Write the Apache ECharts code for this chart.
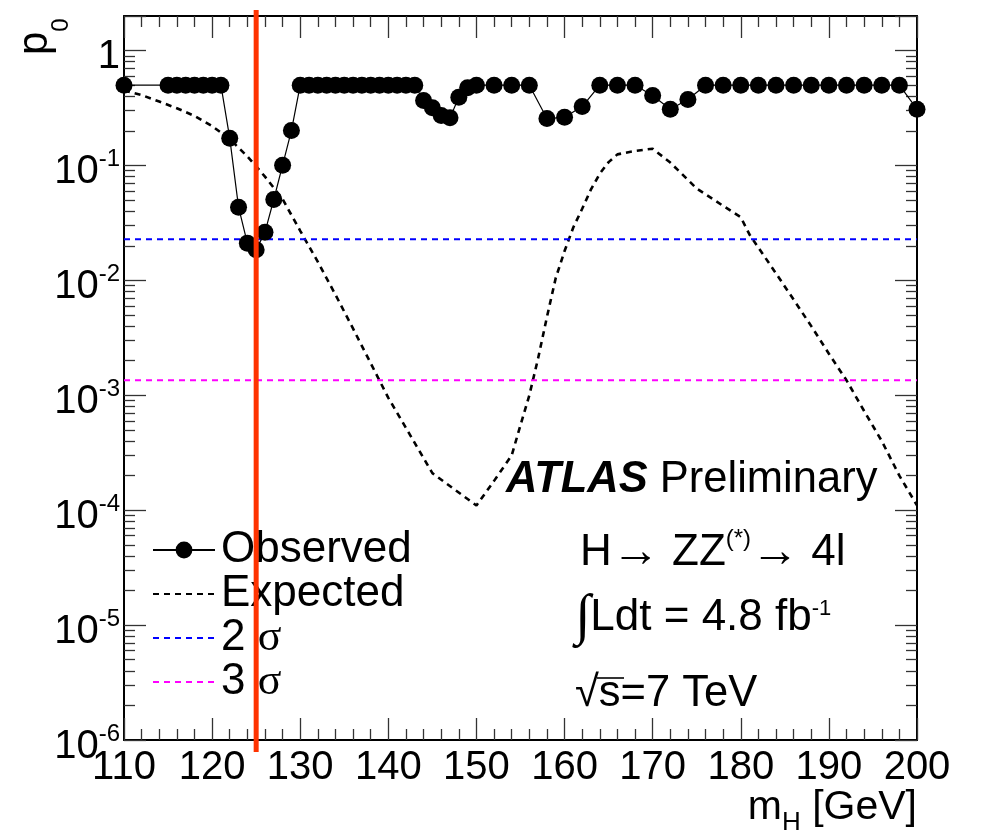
<!DOCTYPE html>
<html><head><meta charset="utf-8">
<script src="https://cdn.jsdelivr.net/npm/echarts@6/dist/echarts.min.js"></script>
<style>html,body{margin:0;padding:0;background:#fff}#c{width:981px;height:835px}</style>
</head><body><div id="c"></div>
<script>
// ---- data ----
const obsMass = [110,115,116,117,118,119,120,121,122,123,124,125,126,127,128,129,
  130,131,132,133,134,135,136,137,138,139,140,141,142,143,144,145,146,147,148,149,
  150,152,154,156,158,160,162,164,166,168,170,172,174,176,178,180,182,184,186,188,
  190,192,194,196,198,200];
const obsP = [0.5,0.5,0.5,0.5,0.5,0.5,0.5,0.5,0.173,0.0434,0.0211,0.0185,0.0263,0.0506,0.1007,0.2015,
  0.5,0.5,0.5,0.5,0.5,0.5,0.5,0.5,0.5,0.5,0.5,0.5,0.5,0.5,0.367,0.318,0.272,0.26,0.393,0.474,
  0.5,0.5,0.5,0.5,0.256,0.263,0.326,0.5,0.5,0.5,0.406,0.309,0.375,0.5,0.5,0.5,0.5,0.5,0.5,0.5,
  0.5,0.5,0.5,0.5,0.5,0.309];
const expMass = [110,112,114,116,118,120,122,124,126,128,130,132,134,136,138,140,142,145,150,
  152,154,155,156,157,158,159,160,161,162,163,164,165,166,168,170,172,175,178,180,181,184,186,
  188,190,192,194,196,198,200];
const expP = [0.449,0.41,0.36,0.315,0.27,0.22,0.17,0.12,0.08,0.051,0.027,0.0145,0.0075,0.0038,0.0019,0.00095,0.00052,0.00021,0.00011,
  0.00018,0.0003,0.00055,0.001,0.0021,0.0048,0.0105,0.018,0.029,0.042,0.062,0.085,0.107,0.125,0.134,0.14,0.106,0.063,0.0445,0.0355,0.025,0.0115,0.0068,
  0.004,0.0023,0.00135,0.00073,0.0004,0.0002,0.00011];
const sigmaNames = ['2 σ', '3 σ'];
const sigmaP = [0.02275, 0.00135];
const higgsMass = [125];
const massRange = [110, 200];
const pRange = [1e-6, 2];
const yTickExponents = [0, -1, -2, -3, -4, -5, -6];
const legendNames = ['Observed', 'Expected', '2 σ', '3 σ'];

// ---- chart ----
const FONT = "'Liberation Sans', Arial, Helvetica, sans-serif";
const SERIF = "'Liberation Serif', 'DejaVu Serif', serif";
const chart = echarts.init(document.getElementById('c'), null, {renderer: 'canvas'});

function xAxisDef(pos, showLabel) {
  return {
    type: 'value', position: pos, min: massRange[0], max: massRange[1], interval: 10,
    axisLine: {show: true, onZero: false, lineStyle: {color: '#000', width: 2}},
    axisTick: {show: true, inside: true, length: 22, lineStyle: {color: '#333', width: 1.3}},
    minorTick: {show: true, splitNumber: 5, length: 11, lineStyle: {color: '#333', width: 1.3}},
    splitLine: {show: false},
    axisLabel: {show: showLabel, fontSize: 40, fontFamily: FONT, color: '#000', margin: 8}
  };
}
function yAxisDef(pos, showLabel) {
  return {
    type: 'log', logBase: 10, position: pos, min: pRange[0], max: pRange[1], splitNumber: 7,
    axisLine: {show: true, onZero: false, lineStyle: {color: '#000', width: 2}},
    axisTick: {show: true, inside: true, length: 22, lineStyle: {color: '#333', width: 1.3}},
    minorTick: {show: true, splitNumber: 9, length: 11, lineStyle: {color: '#333', width: 1.3}},
    splitLine: {show: false},
    axisLabel: {
      show: showLabel, margin: 4, color: '#000', fontFamily: FONT,
      formatter: function (v) {
        const e = Math.log10(v), r = Math.round(e);
        if (Math.abs(e - r) > 1e-6 || yTickExponents.indexOf(r) < 0) return '';
        return r === 0 ? '{b|1}' : '{b|10}{s|' + r + '}';
      },
      rich: {
        b: {fontSize: 40, fontFamily: FONT, color: '#000', padding: [13, 0, 0, 0]},
        s: {fontSize: 24, fontFamily: FONT, color: '#000', padding: [0, 0, 12, 0]}
      }
    }
  };
}

const hidden = {opacity: 0};
const option = {
  animation: false,
  backgroundColor: '#fff',
  grid: {left: 124, right: 64, top: 16, bottom: 95},
  xAxis: [xAxisDef('bottom', true), xAxisDef('top', false)],
  yAxis: [yAxisDef('left', true), yAxisDef('right', false)],
  legend: {
    data: legendNames.map((n, i) => i === 0 ? {name: n} : {name: n, itemStyle: hidden}),
    orient: 'vertical', left: 147, top: 523,
    itemWidth: 62, itemHeight: 21, itemGap: 0, selectedMode: false,
    formatter: n => n.replace('σ', '{s|σ}'),
    textStyle: {fontSize: 44, fontFamily: FONT, color: '#000', lineHeight: 43, padding: [0, 0, 0, 1],
      rich: {s: {fontSize: 44, fontFamily: SERIF, color: '#000', lineHeight: 43}}}
  },
  series: [
    {
      name: 'Expected', type: 'line', z: 2,
      data: expMass.map((m, i) => [m, expP[i]]),
      showSymbol: false, symbol: 'none',
      lineStyle: {color: '#000', width: 2.6, type: [6, 5]}, itemStyle: {color: '#000'}
    },
    {
      name: sigmaNames[0], type: 'line', z: 2,
      data: massRange.map(m => [m, sigmaP[0]]), symbol: 'none',
      lineStyle: {color: '#0000ff', width: 2, type: [6, 5]}, itemStyle: {color: '#0000ff'}
    },
    {
      name: sigmaNames[1], type: 'line', z: 2,
      data: massRange.map(m => [m, sigmaP[1]]), symbol: 'none',
      lineStyle: {color: '#ff00ff', width: 2, type: [6, 5]}, itemStyle: {color: '#ff00ff'}
    },
    {
      name: 'Observed', type: 'line', z: 4, clip: false,
      data: obsMass.map((m, i) => [m, obsP[i]]),
      symbol: 'circle', symbolSize: 17, showSymbol: true, showAllSymbol: true,
      lineStyle: {color: '#000', width: 1.2}, itemStyle: {color: '#000'}
    },
    {
      name: 'mH', type: 'custom', z: 6, clip: false, silent: true,
      data: higgsMass.map(m => [m, 1]),
      encode: {x: 0, y: 1},
      renderItem: function (params, api) {
        const pt = api.coord([api.value(0), 1]);
        const cs = params.coordSys;
        return {type: 'line', shape: {x1: pt[0], y1: cs.y - 6, x2: pt[0], y2: cs.y + cs.height + 12},
          style: {stroke: '#ff3300', lineWidth: 5}};
      }
    }
  ],
  graphic: [
    {type: 'text', x: 35, y: 55, rotation: Math.PI / 2,
      style: {text: 'p{sub|0}', fontSize: 42, fontFamily: FONT, fill: '#000', align: 'left', verticalAlign: 'middle',
        rich: {sub: {fontSize: 24, fontFamily: FONT, fill: '#000', padding: [52, 0, 0, 0]}}}},
    {type: 'text', x: 917, y: 808,
      style: {text: 'm{sub|H} [GeV]', fontSize: 41, fontFamily: FONT, fill: '#000', align: 'right', verticalAlign: 'middle',
        rich: {sub: {fontSize: 26, fontFamily: FONT, fill: '#000', padding: [30, 0, 0, 0]}}}},
    {type: 'text', x: 506, y: 480,
      style: {text: '{b|ATLAS} Preliminary', fontSize: 43.5, fontFamily: FONT, fill: '#000', align: 'left', verticalAlign: 'middle',
        rich: {b: {fontSize: 43.5, fontFamily: FONT, fontWeight: 'bold', fontStyle: 'italic', fill: '#000'}}}},
    {type: 'text', x: 580, y: 553,
      style: {text: 'H{a|\u2192} ZZ{sup|(*)}{a|\u2192} 4l', fontSize: 44, fontFamily: FONT, fill: '#000', align: 'left', verticalAlign: 'middle',
        rich: {a: {fontSize: 48, fontFamily: SERIF, fill: '#000', lineHeight: 44},
               sup: {fontSize: 24, fontFamily: FONT, fill: '#000', padding: [0, 0, 27, 0]}}}},
    {type: 'text', x: 575, y: 618,
      style: {text: '{int|\u222B}Ldt = 4.8 fb{sup|-1}', fontSize: 44, fontFamily: FONT, fill: '#000', align: 'left', verticalAlign: 'middle',
        rich: {int: {fontSize: 56, fontFamily: SERIF, fill: '#000', lineHeight: 44},
               sup: {fontSize: 22, fontFamily: FONT, fill: '#000', padding: [0, 0, 18, 0]}}}},
    {type: 'text', x: 575, y: 694,
      style: {text: '\u221As=7 TeV', fontSize: 43.5, fontFamily: FONT, fill: '#000', align: 'left', verticalAlign: 'middle'}},
    {type: 'line', shape: {x1: 597, y1: 678, x2: 624, y2: 678}, style: {stroke: '#000', lineWidth: 1.6}}
  ]
};
chart.setOption(option);
</script></body></html>
